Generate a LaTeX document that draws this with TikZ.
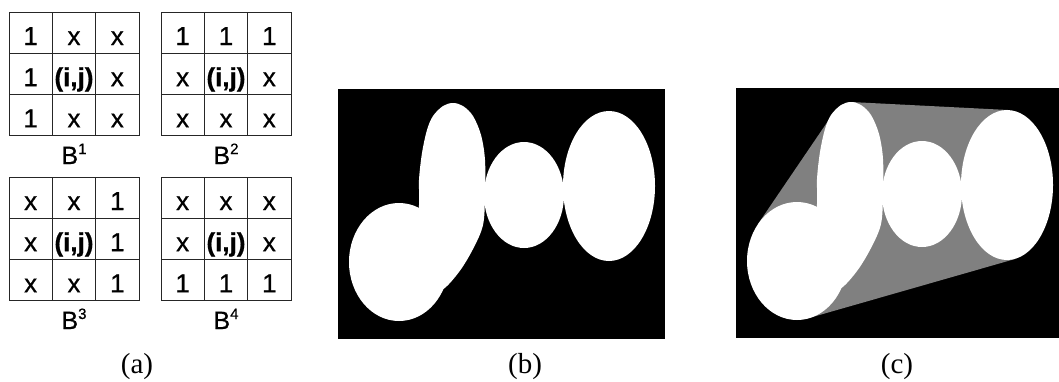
\documentclass[tikz,border=0pt]{standalone}
\usepackage{fontspec}
\setmainfont{Liberation Serif}
\newfontfamily\arialfont[FakeBold=0.7]{Liberation Sans}
\newcommand\mygrid[5]{%
  \draw[gridline] (#2,#3) rectangle ++(130,123.5);
  \draw[gridline] (#2+43.33,#3) -- ++(0,123.5);
  \draw[gridline] (#2+86.67,#3) -- ++(0,123.5);
  \draw[gridline] (#2,#3+41.17) -- ++(130,0);
  \draw[gridline] (#2,#3+82.33) -- ++(130,0);
  \foreach \t [count=\i from 0] in {#5} {
    \pgfmathtruncatemacro\cc{mod(\i,3)}
    \pgfmathtruncatemacro\rr{int(\i/3)}
    \node[cell] (#1-\i) at (#2+21.67+43.33*\cc, #3+33+41.17*\rr) {\t};
  }
  \node[blabel] (#1-lab) at (#2+65,#3+152) {B\raisebox{10pt}{\fontsize{15}{15}\selectfont #4}};
}
\newcommand\myblobs{%
  \fill[white] (399,262) ellipse [x radius=50pt, y radius=59pt];
  \fill[white] plot[smooth cycle, tension=0.55] coordinates {(453,103) (463,106) (473,116) (481,135) (485,160) (485,195) (483,225) (473,249) (459,272) (442,290) (425,292) (415,260) (419,205) (419,180) (422,153) (427,130) (433,116) (443,106)};
  \fill[white] (524,195) ellipse [x radius=40pt, y radius=53pt];
  \fill[white] (609,186) ellipse [x radius=46pt, y radius=75pt];
}
\begin{document}
\begin{tikzpicture}[x=1pt,y=-1pt,
  cell/.style={font=\arialfont\fontsize{26}{26}\selectfont, anchor=base, inner sep=0pt},
  blabel/.style={font=\arialfont\fontsize{25}{25}\selectfont, anchor=base, inner sep=0pt},
  plabel/.style={font=\fontsize{29}{29}\selectfont, anchor=base, inner sep=0pt},
  gridline/.style={draw=black!85, line width=0.9pt}]
\useasboundingbox (0,0) rectangle (1059,381);
% (a) structuring elements
\mygrid{g1}{9}{12}{1}{1,x,x,1,{\textbf{(i,j)}},x,1,x,x}
\mygrid{g2}{161}{12}{2}{1,1,1,x,{\textbf{(i,j)}},x,x,x,x}
\mygrid{g3}{9}{177}{3}{x,x,1,x,{\textbf{(i,j)}},1,x,x,1}
\mygrid{g4}{161}{177}{4}{x,x,x,x,{\textbf{(i,j)}},x,1,1,1}
% (b) binary image
\fill[black] (338,89) rectangle (665,339);
\myblobs
% (c) convex hull
\begin{scope}[shift={(398,-1)}]
  \fill[black] (338,89) rectangle (661,339);
  \fill[gray] (360,225) -- (430,122) -- (453,103) -- (610,111) -- (617,260) -- (411,319) -- cycle;
  \myblobs
\end{scope}
% captions
\node[plabel] (la) at (137,373) {(a)};
\node[plabel] (lb) at (525,373) {(b)};
\node[plabel] (lc) at (897,373) {(c)};
\end{tikzpicture}
\end{document}
